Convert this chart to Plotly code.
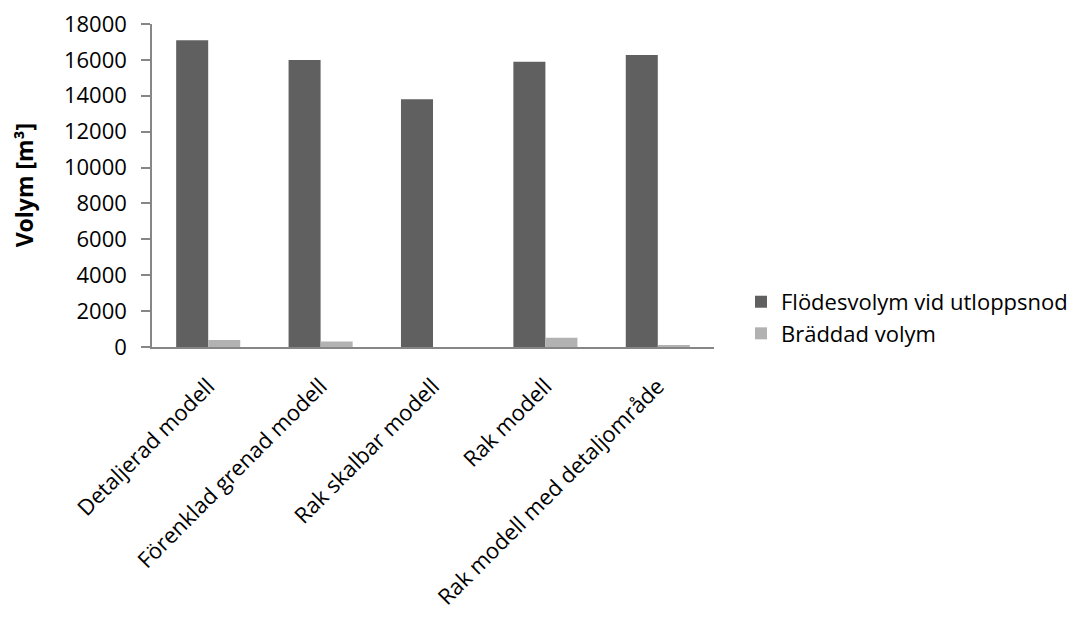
import plotly.graph_objects as go

categories = ["Detaljerad modell", "Förenklad grenad modell", "Rak skalbar modell",
              "Rak modell", "Rak modell med detaljområde"]
flow_volume = [17100, 16000, 13800, 15900, 16270]
overflow_volume = [390, 300, 0, 510, 110]
y_ticks = [0, 2000, 4000, 6000, 8000, 10000, 12000, 14000, 16000, 18000]
y_tick_labels = [str(v) for v in y_ticks]

FONT = "Open Sans, Lato, Liberation Sans, sans-serif"

fig = go.Figure()
fig.add_trace(go.Bar(x=categories, y=flow_volume, name="Flödesvolym vid utloppsnod",
                     marker=dict(color="#606060", line=dict(width=0))))
fig.add_trace(go.Bar(x=categories, y=overflow_volume, name="Bräddad volym",
                     marker=dict(color="#b2b2b2", line=dict(width=0))))

fig.update_layout(
    width=1080, height=619,
    margin=dict(l=152, r=366, t=24, b=272, autoexpand=False),
    paper_bgcolor="white", plot_bgcolor="white",
    barmode="group", bargap=0.43, bargroupgap=0,
    font=dict(family=FONT, size=22, color="black"),
    showlegend=True,
    legend=dict(x=1.048, xanchor="left", y=0.09, yanchor="middle",
                font=dict(size=22), tracegroupgap=0, itemwidth=30,
                bgcolor="rgba(0,0,0,0)"),
    xaxis=dict(showgrid=False, showline=True, linecolor="#868686", linewidth=1.5,
               tickangle=-45, ticks="", ticklabelstandoff=16,
               tickfont=dict(size=22), automargin=False),
    yaxis=dict(range=[0, 18000], tickvals=y_ticks, ticktext=y_tick_labels,
               showgrid=False, showline=True,
               linecolor="#868686", linewidth=1.5, ticks="outside", ticklen=9,
               tickcolor="#868686", tickwidth=1.5, ticklabelstandoff=10,
               tickfont=dict(size=22), automargin=False, zeroline=False),
    annotations=[dict(text="<b>Volym [m³]</b>", xref="paper", yref="paper",
                      x=-0.228, xanchor="center", y=0.5, yanchor="middle",
                      textangle=-90, showarrow=False,
                      font=dict(size=23, family=FONT))],
)

fig.write_html("out.html")
